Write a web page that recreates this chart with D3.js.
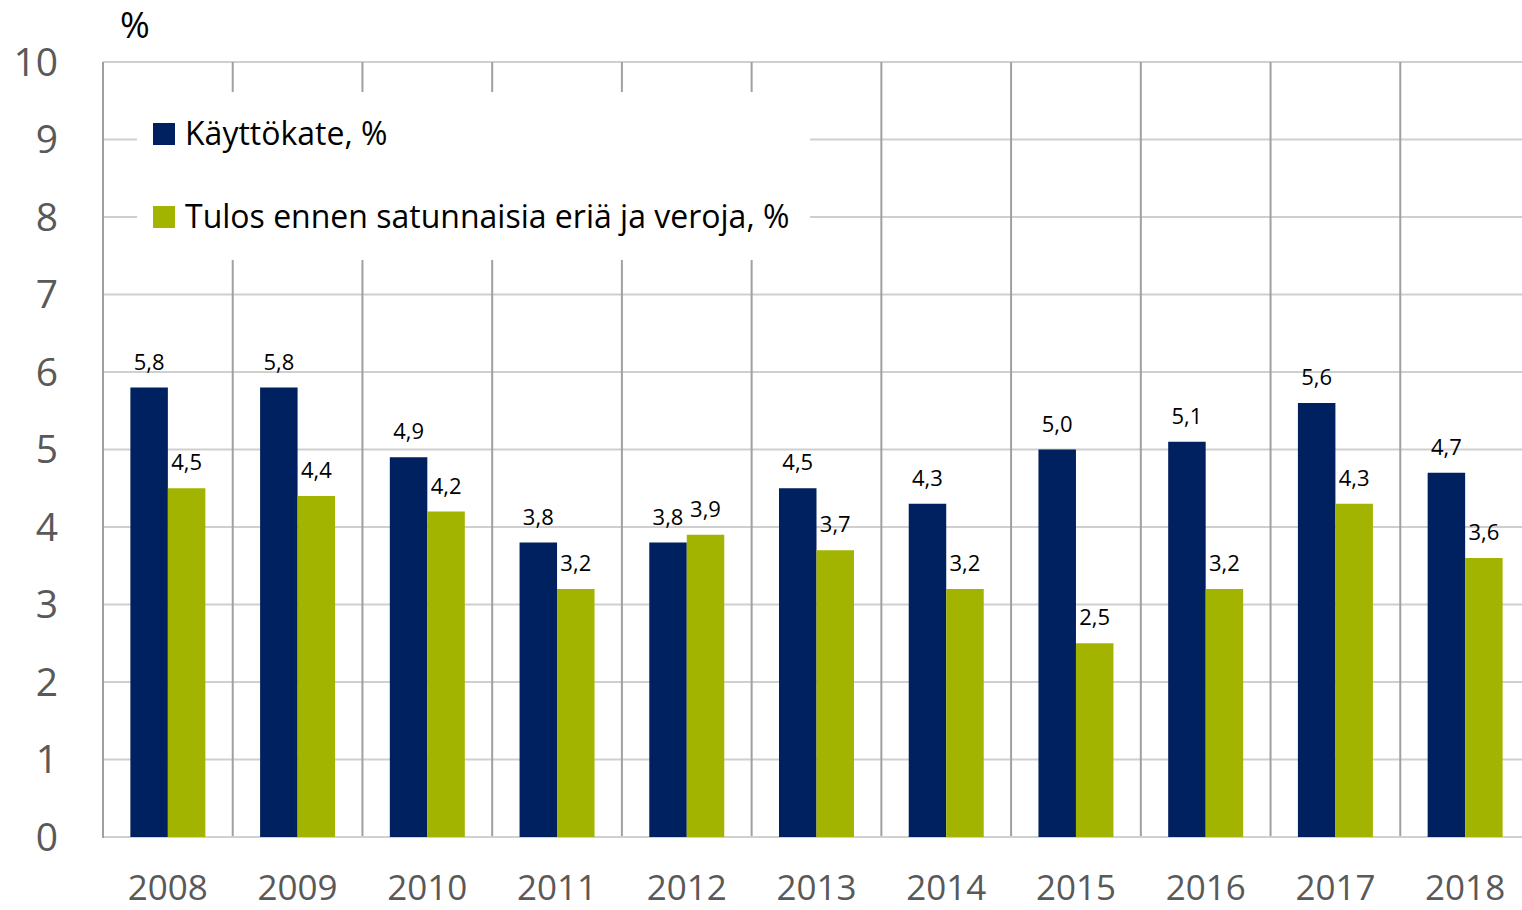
<!DOCTYPE html>
<html><head><meta charset="utf-8">
<script src="https://cdn.jsdelivr.net/npm/d3@7"></script>
<style>body{margin:0;background:#fff}svg{display:block}text{font-family:"Open Sans",sans-serif}</style>
</head><body>
<svg id="c" width="1522" height="910"></svg>
<script>
const years = ["2008","2009","2010","2011","2012","2013","2014","2015","2016","2017","2018"];
const seriesNames = ["Käyttökate, %","Tulos ennen satunnaisia eriä ja veroja, %"];
const kayttokate = [5.8,5.8,4.9,3.8,3.8,4.5,4.3,5.0,5.1,5.6,4.7];
const tulos = [4.5,4.4,4.2,3.2,3.9,3.7,3.2,2.5,3.2,4.3,3.6];
const yTicks = [0,1,2,3,4,5,6,7,8,9,10];
const colors = ["#00215f","#a2b400"];

const svg = d3.select("#c");
const x0 = d3.scaleBand().domain(years).range([103,1530]).padding(0);
const x1 = d3.scaleBand().domain([0,1]).range([0,x0.bandwidth()]).paddingInner(0).paddingOuter(0.73);
const y = d3.scaleLinear().domain([0,10]).range([837,62]);

// horizontal grid
svg.append("g").selectAll("line").data(yTicks.filter(d=>d>0)).join("line")
  .attr("x1",103).attr("x2",1522).attr("y1",d=>y(d)).attr("y2",d=>y(d))
  .attr("stroke","#cfcfcf").attr("stroke-width",2);
// vertical grid
svg.append("g").selectAll("line").data(years.slice(1)).join("line")
  .attr("x1",d=>x0(d)).attr("x2",d=>x0(d)).attr("y1",y(10)).attr("y2",y(0))
  .attr("stroke","#a0a0a0").attr("stroke-width",2);
// bottom axis
svg.append("line").attr("x1",103).attr("x2",1522).attr("y1",y(0)).attr("y2",y(0)).attr("stroke","#d0d0d0").attr("stroke-width",2);
// left axis
svg.append("line").attr("x1",103).attr("x2",103).attr("y1",y(10)).attr("y2",y(0)+1).attr("stroke","#a0a0a0").attr("stroke-width",2);

// y labels
svg.append("g").selectAll("text").data(yTicks).join("text")
  .attr("x",58).attr("y",d=>y(d)).attr("dy","0.35em").attr("text-anchor","end")
  .attr("font-size",39).attr("fill","#595959").text(d=>d);
svg.append("text").attr("x",135).attr("y",38).attr("text-anchor","middle").attr("font-size",36).attr("fill","#000").text("%");

// x labels
svg.append("g").selectAll("text").data(years).join("text")
  .attr("x",d=>x0(d)+x0.bandwidth()/2).attr("y",900).attr("text-anchor","middle")
  .attr("font-size",35).attr("fill","#595959").text(d=>d);

const data = years.map((yr,i)=>({yr, vals:[kayttokate[i],tulos[i]]}));
const g = svg.append("g").selectAll("g").data(data).join("g").attr("transform",d=>`translate(${x0(d.yr)},0)`);
g.selectAll("rect").data(d=>d.vals.map((v,k)=>({v,k}))).join("rect")
  .attr("x",d=>x1(d.k)).attr("width",x1.bandwidth()).attr("y",d=>y(d.v)).attr("height",d=>y(0)-y(d.v))
  .attr("fill",d=>colors[d.k]);
g.selectAll("text").data(d=>d.vals.map((v,k)=>({v,k}))).join("text")
  .attr("x",d=>x1(d.k)+x1.bandwidth()/2).attr("y",d=>y(d.v)-18).attr("text-anchor","middle")
  .attr("font-size",22).attr("fill","#000").text(d=>d.v.toFixed(1).replace(".",","));

// legend
const lg = svg.append("g");
lg.append("rect").attr("x",137).attr("y",92).attr("width",673).attr("height",168).attr("fill","#fff");
seriesNames.forEach((s,i)=>{
  const cy = 134 + i*83;
  lg.append("rect").attr("x",153).attr("y",cy-11).attr("width",22).attr("height",22).attr("fill",colors[i]);
  lg.append("text").attr("x",185).attr("y",cy).attr("dy","0.35em").attr("font-size",32).attr("fill","#000").text(s);
});
</script>
</body></html>
